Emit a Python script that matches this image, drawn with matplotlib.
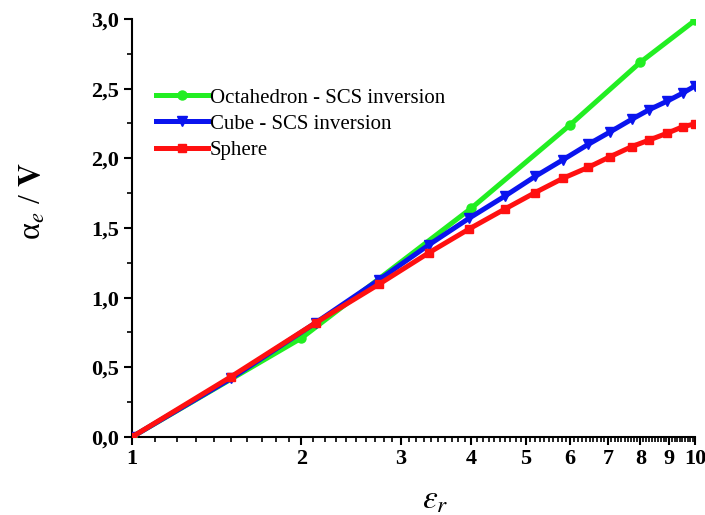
import numpy as np
import matplotlib.pyplot as plt
from matplotlib.ticker import FixedLocator, FuncFormatter, MultipleLocator

# values
eps_oct = [1, 2, 4, 6, 8, 10]
alpha_oct = [0.0, 0.71, 1.64, 2.24, 2.69, 2.99]

eps_cs = [1, 1.5, 2.12, 2.75, 3.37, 3.97, 4.6, 5.2, 5.83, 6.46, 7.07, 7.72, 8.3, 8.92, 9.53, 10]
alpha_cube = [0.0, 0.42, 0.82, 1.13, 1.38, 1.57, 1.73, 1.87, 1.99, 2.10, 2.19, 2.28, 2.35, 2.41, 2.47, 2.52]
alpha_sphere = [0.0, 0.433, 0.82, 1.098, 1.323, 1.493, 1.637, 1.754, 1.857, 1.935, 2.012, 2.084, 2.132, 2.18, 2.228, 2.247]

x_major = [1, 2, 3, 4, 5, 6, 7, 8, 9, 10]

plt.rcParams['mathtext.fontset'] = 'stix'
serif = 'Liberation Serif'

fig = plt.figure(figsize=(7.05, 5.15), dpi=100)
ax = fig.add_axes([0.1872, 0.1515, 0.7986, 0.8116])

lw = 3.6
ax.plot(eps_oct, alpha_oct, '-o', color='#22ee22', lw=lw, ms=6.5,
        label='Octahedron - SCS inversion', zorder=3)
ax.plot(eps_cs, alpha_cube, '-v', color='#0a14ee', lw=lw, ms=7.5,
        label='Cube - SCS inversion', zorder=4)
ax.plot(eps_cs, alpha_sphere, '-s', color='#ff1010', lw=lw, ms=5.5,
        label='Sphere', zorder=5)

ax.set_xscale('log')
ax.set_xlim(1, 10)
ax.set_ylim(0, 3.0)

ax.xaxis.set_major_locator(FixedLocator(x_major))
ax.xaxis.set_minor_locator(FixedLocator(np.arange(1.1, 10, 0.1)))
ax.xaxis.set_major_formatter(FuncFormatter(lambda v, p: '%d' % round(v)))
ax.xaxis.set_minor_formatter(FuncFormatter(lambda v, p: ''))
ax.yaxis.set_major_locator(MultipleLocator(0.5))
ax.yaxis.set_minor_locator(MultipleLocator(0.25))
ax.yaxis.set_major_formatter(FuncFormatter(lambda v, p: ('%.1f' % v).replace('.', ',')))

for side in ['top', 'right']:
    ax.spines[side].set_visible(False)
for side in ['left', 'bottom']:
    ax.spines[side].set_linewidth(1.5)

ax.tick_params(which='major', length=6, width=1.5, direction='out', pad=3)
ax.tick_params(which='minor', length=3.5, width=1.2, direction='out')
for lab in ax.get_xticklabels() + ax.get_yticklabels():
    lab.set_fontfamily(serif)
    lab.set_fontweight('bold')
    lab.set_fontsize(16)

ax.set_ylabel(r'α$_{\mathit{e}}$ / $\mathbf{V}$', fontsize=23, fontfamily=serif)
ax.yaxis.set_label_coords(-0.15, 0.565)
ax.set_xlabel(r'$\boldsymbol{\varepsilon_r}$', fontsize=24)
ax.xaxis.set_label_coords(0.538, -0.108)

ax.legend(loc='upper left', bbox_to_anchor=(0.027, 0.855), frameon=False,
          prop={'family': serif, 'size': 15}, handlelength=2.5,
          handletextpad=0.1, labelspacing=0.32, borderaxespad=0)

fig.savefig('out.png', dpi=100)
